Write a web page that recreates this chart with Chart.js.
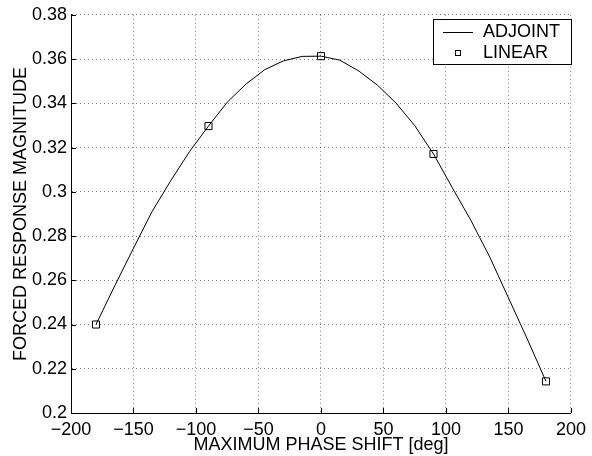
<!DOCTYPE html>
<html>
<head>
<meta charset="utf-8">
<script src="https://cdn.jsdelivr.net/npm/chart.js@4"></script>
<style>
  html, body { margin: 0; padding: 0; background: #fff; }
  #wrap { width: 592px; height: 456px; }
</style>
</head>
<body>
<div id="wrap"><canvas id="chart" width="592" height="456"></canvas></div>
<script>
'use strict';

// phase shift [deg] for the adjoint curve
const phaseShift = [-180, -165, -150, -135, -120, -105, -90, -75, -60, -45, -30, -15, 0,
  15, 30, 45, 60, 75, 90, 105, 120, 135, 150, 165, 180];
const adjoint = [0.2400, 0.2575, 0.2745, 0.2912, 0.3052, 0.3183, 0.3297, 0.3405, 0.3487,
  0.3552, 0.3592, 0.3612, 0.3613, 0.3595, 0.3547, 0.3483, 0.3401, 0.3299, 0.3171,
  0.3019, 0.2870, 0.2705, 0.2520, 0.2335, 0.2143];

// linear prediction points
const linearShift = [-180, -90, 0, 90, 180];
const linear = [0.2400, 0.3297, 0.3613, 0.3171, 0.2143];

const FONT = "'Liberation Sans', Arial, Helvetica, sans-serif";

function pairs(xs, ys) {
  return xs.map(function(x, i) { return { x: x, y: ys[i] }; });
}

// matlab style: ticks pointing inwards + legend box inside the axes
const matlabBits = {
  id: 'matlabBits',
  afterDraw: function(chart) {
    const ctx = chart.ctx;
    const area = chart.chartArea;
    const xs = chart.scales.x, ys = chart.scales.y;
    ctx.save();
    ctx.strokeStyle = '#000';
    ctx.lineWidth = 1;
    ctx.beginPath();
    xs.ticks.forEach(function(t) {
      const px = Math.round(xs.getPixelForValue(t.value)) + 0.5;
      ctx.moveTo(px, area.bottom);
      ctx.lineTo(px, area.bottom - 5);
    });
    ys.ticks.forEach(function(t) {
      const py = Math.round(ys.getPixelForValue(t.value)) + 0.5;
      ctx.moveTo(area.left, py);
      ctx.lineTo(area.left + 5, py);
    });
    ctx.stroke();

    // legend
    const bx = 433.5, by = 19.5, bw = 138, bh = 45;
    ctx.fillStyle = '#fff';
    ctx.fillRect(bx, by, bw, bh);
    ctx.strokeRect(bx, by, bw, bh);
    const ds = chart.data.datasets;
    ctx.font = '18px ' + FONT;
    ctx.fillStyle = '#000';
    ctx.textBaseline = 'middle';
    ctx.textAlign = 'left';
    ctx.beginPath();
    ctx.moveTo(443, 32.5);
    ctx.lineTo(473, 32.5);
    ctx.stroke();
    ctx.fillText(ds[0].label, 483, 32);
    ctx.strokeRect(455.5, 50.5, 5, 5);
    ctx.fillText(ds[1].label, 483, 53);
    ctx.restore();
  }
};

new Chart(document.getElementById('chart'), {
  type: 'scatter',
  data: {
    datasets: [
      {
        label: 'ADJOINT',
        data: pairs(phaseShift, adjoint),
        showLine: true,
        borderColor: '#000',
        borderWidth: 1,
        pointRadius: 0,
        tension: 0
      },
      {
        label: 'LINEAR',
        data: pairs(linearShift, linear),
        showLine: false,
        borderColor: '#000',
        backgroundColor: 'rgba(0,0,0,0)',
        borderWidth: 1,
        pointStyle: 'rect',
        pointRadius: 5
      }
    ]
  },
  options: {
    responsive: false,
    animation: false,
    layout: { padding: { left: 0, right: 16, top: 14, bottom: 0 } },
    plugins: {
      legend: { display: false },
      tooltip: { enabled: false }
    },
    scales: {
      x: {
        type: 'linear',
        min: -200,
        max: 200,
        afterFit: function(s) { s.height = 43; },
        ticks: {
          stepSize: 50,
          color: '#000',
          padding: 6,
          maxRotation: 0,
          font: { family: FONT, size: 18 },
          callback: function(v) { return v < 0 ? '\u2212' + Math.abs(v) : '' + v; }
        },
        grid: {
          color: 'rgba(0,0,0,0.5)',
          drawTicks: false
        },
        border: { display: true, color: '#000', width: 1, dash: [1, 3] },
        title: {
          display: true,
          text: 'MAXIMUM PHASE SHIFT [deg]',
          color: '#000',
          padding: { top: 0, bottom: 0 },
          font: { family: FONT, size: 18 }
        }
      },
      y: {
        min: 0.2,
        max: 0.38,
        afterFit: function(s) { s.width = 71; },
        ticks: {
          stepSize: 0.02,
          color: '#000',
          padding: 4,
          font: { family: FONT, size: 18 },
          callback: function(v) { return '' + (+v.toFixed(2)); }
        },
        grid: {
          color: 'rgba(0,0,0,0.5)',
          drawTicks: false
        },
        border: { display: true, color: '#000', width: 1, dash: [1, 3] },
        title: {
          display: true,
          text: 'FORCED RESPONSE MAGNITUDE',
          color: '#000',
          padding: { top: 10, bottom: 0 },
          font: { family: FONT, size: 18 }
        }
      }
    }
  },
  plugins: [matlabBits]
});
</script>
</body>
</html>
